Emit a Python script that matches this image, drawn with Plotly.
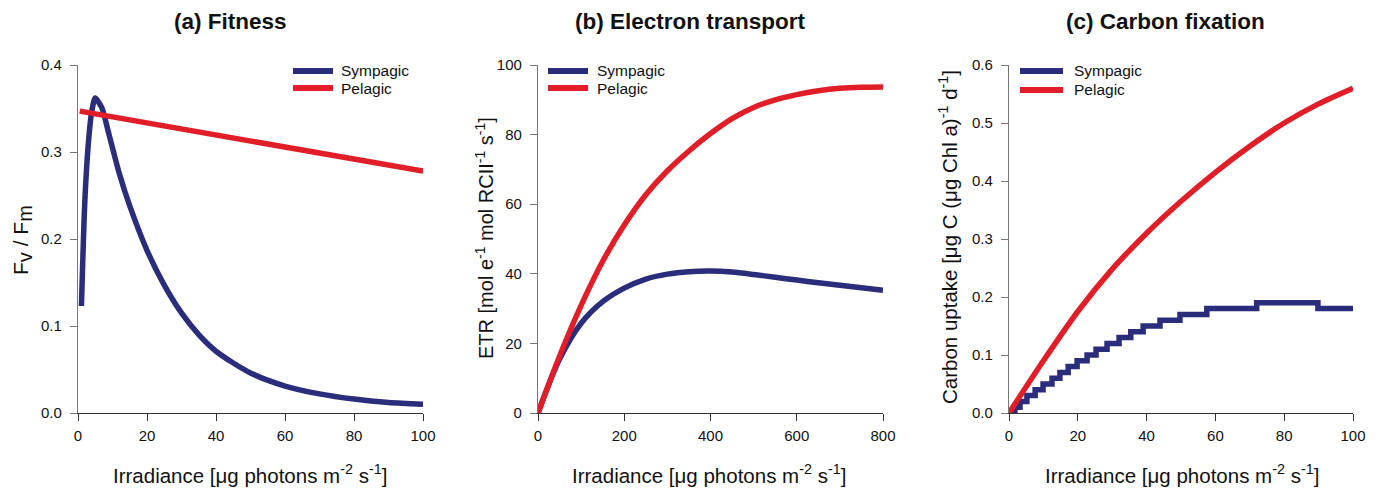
import plotly.graph_objects as go

W, H = 1378, 497

# ---------------- data ----------------
# (a) Fitness: Fv/Fm vs irradiance
a_sym_x = [1, 2, 3, 4, 5, 6, 7, 9, 12, 15, 20, 25, 30, 35, 40, 50, 60, 70, 80, 90, 100]
a_sym_y = [0.123, 0.245, 0.31, 0.347, 0.362, 0.357, 0.35, 0.32, 0.275, 0.238, 0.187, 0.147,
           0.115, 0.09, 0.071, 0.046, 0.031, 0.022, 0.016, 0.012, 0.010]
a_pel_x = [0.5, 100]
a_pel_y = [0.347, 0.278]

# (b) Electron transport: ETR vs irradiance
b_x = [0, 50, 100, 150, 200, 250, 300, 350, 400, 450, 500, 550, 600, 650, 700, 750, 800]
b_sym_y = [0, 15.5, 25.8, 32.0, 35.9, 38.5, 39.9, 40.6, 40.8, 40.5, 39.8, 39.0, 38.2, 37.4,
           36.7, 36.0, 35.3]
b_pel_y = [0, 16.3, 30.9, 43.6, 54.0, 62.7, 69.6, 75.3, 80.3, 84.6, 87.8, 90.0, 91.5, 92.6,
           93.3, 93.6, 93.7]

# (c) Carbon fixation: carbon uptake vs irradiance
c_sym_x = [0, 1.7, 3.2, 5.2, 7.6, 9.9, 12.5, 14.8, 17.2, 19.8, 22.7, 25.3, 28.5, 32, 35.4,
           39, 43.9, 49.7, 57.5, 72, 89.8, 100]
c_sym_y = [0, 0.01, 0.02, 0.03, 0.04, 0.05, 0.06, 0.07, 0.08, 0.09, 0.10, 0.11, 0.12, 0.13,
           0.14, 0.15, 0.16, 0.17, 0.18, 0.19, 0.18, 0.18]
c_pel_x = [0, 10, 20, 30, 40, 50, 60, 70, 80, 90, 100]
c_pel_y = [0, 0.09, 0.175, 0.248, 0.31, 0.365, 0.415, 0.46, 0.5, 0.533, 0.56]

titles = ["(a) Fitness", "(b) Electron transport", "(c) Carbon fixation"]
x_title = "Irradiance [μg photons m<sup>-2</sup> s<sup>-1</sup>]"
y_titles = ["F<sub><span style='font-size:20px'>v</span></sub> / "
            "F<sub><span style='font-size:20px'>m</span></sub>",
            "ETR [mol e<sup>-1</sup> mol RCII<sup>-1</sup> s<sup>-1</sup>]",
            "Carbon uptake [μg C (μg Chl a)<sup>-1</sup> d<sup>-1</sup>]"]
series_names = ["Sympagic", "Pelagic"]

# ---------------- style ----------------
BLUE = "#2A2C7C"
RED = "#E11E27"
FONT = "Liberation Sans, Arial, sans-serif"
LW = 5.5


def px(x):
    return x / W


def py(y):
    return 1 - y / H


fig = go.Figure()

panels = [
    (a_sym_x, a_sym_y, a_pel_x, a_pel_y, "spline", "linear"),
    (b_x, b_sym_y, b_x, b_pel_y, "spline", "spline"),
    (c_sym_x, c_sym_y, c_pel_x, c_pel_y, "hv", "spline"),
]
for i, (sx, sy, pxs, pys, sshape, pshape) in enumerate(panels):
    xa = "x" if i == 0 else f"x{i+1}"
    ya = "y" if i == 0 else f"y{i+1}"
    fig.add_trace(go.Scatter(x=sx, y=sy, mode="lines", name=series_names[0],
                             line=dict(color=BLUE, width=LW, shape=sshape, smoothing=0.8),
                             xaxis=xa, yaxis=ya, showlegend=False, cliponaxis=False))
    fig.add_trace(go.Scatter(x=pxs, y=pys, mode="lines", name=series_names[1],
                             line=dict(color=RED, width=LW, shape=pshape, smoothing=0.8),
                             xaxis=xa, yaxis=ya, showlegend=False, cliponaxis=False))

# plot-area pixel boxes
x_dom_px = [(78, 423), (538, 883), (1009, 1353)]
y_dom_px = (65, 413)
x_ranges = [[0, 100], [0, 800], [0, 100]]
x_dticks = [20, 200, 20]
y_ranges = [[0, 0.4], [0, 100], [0, 0.6]]
y_dticks = [0.1, 20, 0.1]
y_fmt = [".1f", "d", ".1f"]

layout_axes = {}
for i in range(3):
    xk = "xaxis" if i == 0 else f"xaxis{i+1}"
    yk = "yaxis" if i == 0 else f"yaxis{i+1}"
    xa = "x" if i == 0 else f"x{i+1}"
    ya = "y" if i == 0 else f"y{i+1}"
    layout_axes[xk] = dict(
        domain=[px(x_dom_px[i][0]), px(x_dom_px[i][1])], range=x_ranges[i],
        anchor=ya, dtick=x_dticks[i], tick0=0, showgrid=False, zeroline=False,
        showline=True, linecolor="#333333", linewidth=1.2, ticks="outside", ticklen=7,
        tickcolor="#333333", tickfont=dict(family=FONT, size=15, color="#111111"),
        ticklabelstandoff=2, automargin=False, fixedrange=True)
    layout_axes[yk] = dict(
        domain=[py(y_dom_px[1]), py(y_dom_px[0])], range=y_ranges[i],
        anchor=xa, dtick=y_dticks[i], tick0=0, tickformat=y_fmt[i], showgrid=False,
        zeroline=False, showline=True, linecolor="#777777", linewidth=1.2,
        ticks="outside", ticklen=7, tickcolor="#777777",
        tickfont=dict(family=FONT, size=15, color="#111111"), ticklabelstandoff=5,
        automargin=False, fixedrange=True)

annotations = []
shapes = []
title_cx = [231, 690, 1165]
xt_cx = [250, 709, 1182]
yt_cx = [22, 484, 948]
yt_cy = [240, 238, 237]
yt_size = [21, 20, 20.5]
for i in range(3):
    annotations.append(dict(text=f"<b>{titles[i]}</b>", x=px(title_cx[i]), y=py(22),
                            xref="paper", yref="paper", showarrow=False,
                            xanchor="center", yanchor="middle",
                            font=dict(family=FONT, size=22.5, color="#111111")))
    annotations.append(dict(text=x_title, x=px(xt_cx[i]), y=py(474),
                            xref="paper", yref="paper", showarrow=False,
                            xanchor="center", yanchor="middle",
                            font=dict(family=FONT, size=20.5, color="#111111")))
    annotations.append(dict(text=y_titles[i], x=px(yt_cx[i]), y=py(yt_cy[i]),
                            xref="paper", yref="paper", showarrow=False, textangle=-90,
                            xanchor="center", yanchor="middle",
                            font=dict(family=FONT, size=yt_size[i], color="#111111")))

# legends (one per panel): sample line start/end x, text x, row y positions
legend_geom = [((293, 333), 339, (71, 88)),
               ((548, 588), 595, (71, 88)),
               ((1020, 1063), 1072, (71, 90))]
for (lx0, lx1), tx, rows in legend_geom:
    for name, color, ry in zip(series_names, [BLUE, RED], rows):
        shapes.append(dict(type="line", xref="paper", yref="paper",
                           x0=px(lx0), x1=px(lx1), y0=py(ry), y1=py(ry),
                           line=dict(color=color, width=6)))
        annotations.append(dict(text=name, x=px(tx), y=py(ry), xref="paper", yref="paper",
                                showarrow=False, xanchor="left", yanchor="middle",
                                font=dict(family=FONT, size=15.5, color="#111111")))

fig.update_layout(
    width=W, height=H, margin=dict(l=0, r=0, t=0, b=0),
    paper_bgcolor="white", plot_bgcolor="white",
    showlegend=False, annotations=annotations, shapes=shapes,
    **layout_axes,
)

fig.write_html("out.html", config={"displayModeBar": False})
